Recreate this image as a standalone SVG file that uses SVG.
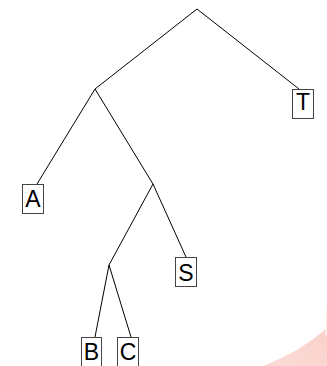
<svg xmlns="http://www.w3.org/2000/svg" width="327" height="366" viewBox="0 0 327 366">
<style>
.e{stroke:#000;stroke-width:1;fill:none}
.b{fill:#fff;stroke:#444;stroke-width:1}
.t{font-family:"Liberation Sans",Arial,sans-serif;font-size:23px;text-anchor:middle;fill:#000}
</style>
<defs>
<linearGradient id="wm" x1="0" y1="1" x2="1" y2="0">
<stop offset="0" stop-color="#fcdcd7"/>
<stop offset="1" stop-color="#fad0ca"/>
</linearGradient>
</defs>
<rect width="327" height="366" fill="#fff"/>
<path d="M263,366 Q300,352 327,328 L327,366 Z" fill="url(#wm)"/>
<path d="M325,335 Q326,320 327,300 L327,336 Z" fill="#fdeeec"/>
<g id="connectors">
<line class="e" x1="197" y1="9" x2="299" y2="89"/>
<line class="e" x1="197" y1="9" x2="95" y2="89"/>
<line class="e" x1="95" y1="89" x2="37" y2="184"/>
<line class="e" x1="95" y1="89" x2="153" y2="184"/>
<line class="e" x1="153" y1="184" x2="186" y2="257"/>
<line class="e" x1="153" y1="184" x2="109" y2="265"/>
<line class="e" x1="109" y1="265" x2="95" y2="337"/>
<line class="e" x1="109" y1="265" x2="131" y2="337"/>
</g>
<g id="T"><rect class="b" x="292.5" y="89.5" width="21" height="29"/><text class="t" x="303" y="110">T</text></g>
<g id="A"><rect class="b" x="22.5" y="184.5" width="21" height="29"/><text class="t" x="33" y="207">A</text></g>
<g id="S"><rect class="b" x="175.5" y="257.5" width="21" height="29"/><text class="t" x="186" y="281">S</text></g>
<g id="B"><rect class="b" x="81.5" y="337.5" width="20" height="30"/><text class="t" x="91.5" y="360">B</text></g>
<g id="C"><rect class="b" x="117.5" y="337.5" width="21" height="30"/><text class="t" x="128" y="360">C</text></g>
</svg>
